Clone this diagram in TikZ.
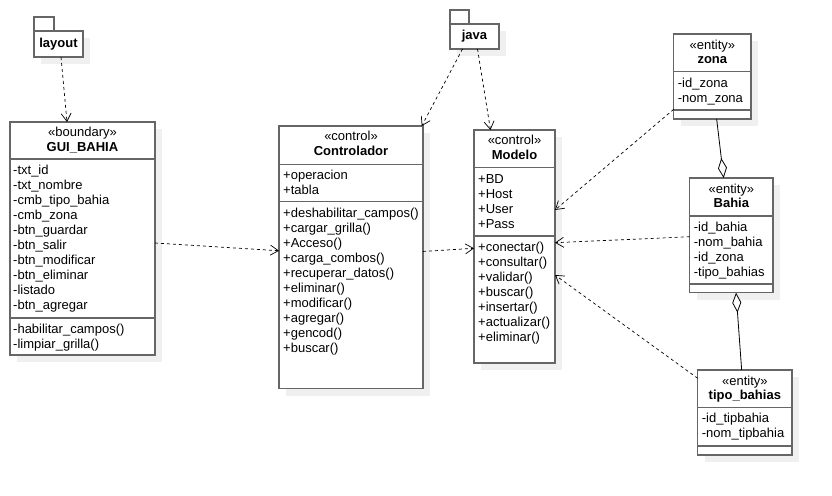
\documentclass[tikz,border=0pt]{standalone}
\usepackage{fontspec}
\setmainfont{Liberation Sans}
\usepackage{tikz}
\usetikzlibrary{arrows.meta}
\usetikzlibrary{calc}
\usetikzlibrary{shadows}
\usetikzlibrary{positioning}

\begin{document}
\begin{tikzpicture}[x=1pt,y=-1pt,
    cls/.style={draw=black!60, line width=1.3pt, fill=white, outer sep=0pt, anchor=north west,
        drop shadow={shadow xshift=7pt, shadow yshift=-7pt, fill=black!6, opacity=1, draw=none}},
    clsline/.style={draw=black!60, line width=1.3pt},
    stereo/.style={anchor=base, inner sep=0pt, font=\fontsize{13}{15}\selectfont},
    cname/.style={anchor=base, inner sep=0pt, font=\fontsize{13}{15}\selectfont\bfseries},
    member/.style={anchor=base west, inner sep=0pt, font=\fontsize{13}{15}\selectfont},
    pkg/.style={cls, anchor=center, font=\fontsize{13}{15}\selectfont\bfseries},
    dep/.style={black, line width=0.7pt, dash pattern=on 3pt off 3pt, -{Straight Barb[length=8pt,width=10pt]}},
    aggr/.style={black, line width=0.8pt}]
        \useasboundingbox (0,0) rectangle (832,495);

        % packages
        \node[pkg, minimum width=49pt, minimum height=26pt] (layout) at (58.5,44) {layout};
        \draw[clsline] (layout.north west) rectangle ([xshift=20pt,yshift=14pt]layout.north west);
        \node[pkg, minimum width=49pt, minimum height=25pt] (java) at (474.5,36.5) {java};
        \draw[clsline] (java.north west) rectangle ([xshift=19pt,yshift=14pt]java.north west);

        % boundary
        \node[cls, minimum width=145pt, minimum height=233pt] (gui) at (10,122) {};
        \node[stereo] (gui-s) at ([yshift=-14.5pt]gui.north) {«boundary»};
        \node[cname] (gui-n) at ([yshift=-29.5pt]gui.north) {GUI\_BAHIA};
        \draw[clsline] ([yshift=-37pt]gui.north west) -- ([yshift=-37pt]gui.north east);
        \draw[clsline] ([yshift=-196pt]gui.north west) -- ([yshift=-196pt]gui.north east);
        \foreach \t [count=\i] in {-txt\_id, -txt\_nombre, -cmb\_tipo\_bahia, -cmb\_zona, -btn\_guardar,
            -btn\_salir, -btn\_modificar, -btn\_eliminar, -listado, -btn\_agregar}
            \node[member] (gui-a\i) at ([xshift=3pt,yshift={-52.5pt-15pt*(\i-1)}]gui.north west) {\t};
        \foreach \t [count=\i] in {-habilitar\_campos(), -limpiar\_grilla()}
            \node[member] (gui-m\i) at ([xshift=3pt,yshift={-211pt-15pt*(\i-1)}]gui.north west) {\t};

        % controllers
        \node[cls, minimum width=144pt, minimum height=262.5pt] (ctrl) at (279,126) {};
        \node[stereo] (ctrl-s) at ([yshift=-14.5pt]ctrl.north) {«control»};
        \node[cname] (ctrl-n) at ([yshift=-29.5pt]ctrl.north) {Controlador};
        \draw[clsline] ([yshift=-38.5pt]ctrl.north west) -- ([yshift=-38.5pt]ctrl.north east);
        \draw[clsline] ([yshift=-75.5pt]ctrl.north west) -- ([yshift=-75.5pt]ctrl.north east);
        \foreach \t [count=\i] in {+operacion, +tabla}
            \node[member] (ctrl-a\i) at ([xshift=4pt,yshift={-53.5pt-15pt*(\i-1)}]ctrl.north west) {\t};
        \foreach \t [count=\i] in {+deshabilitar\_campos(), +cargar\_grilla(), +Acceso(), +carga\_combos(),
            +recuperar\_datos(), +eliminar(), +modificar(), +agregar(), +gencod(), +buscar()}
            \node[member] (ctrl-m\i) at ([xshift=4pt,yshift={-91.8pt-15pt*(\i-1)}]ctrl.north west) {\t};

        \node[cls, minimum width=81pt, minimum height=233pt] (modelo) at (474,130) {};
        \node[stereo] (modelo-s) at ([yshift=-14.5pt]modelo.north) {«control»};
        \node[cname] (modelo-n) at ([yshift=-29.5pt]modelo.north) {Modelo};
        \draw[clsline] ([yshift=-37.7pt]modelo.north west) -- ([yshift=-37.7pt]modelo.north east);
        \draw[clsline] ([yshift=-106pt]modelo.north west) -- ([yshift=-106pt]modelo.north east);
        \foreach \t [count=\i] in {+BD, +Host, +User, +Pass}
            \node[member] (modelo-a\i) at ([xshift=4pt,yshift={-53.5pt-15pt*(\i-1)}]modelo.north west) {\t};
        \foreach \t [count=\i] in {+conectar(), +consultar(), +validar(), +buscar(), +insertar(),
            +actualizar(), +eliminar()}
            \node[member] (modelo-m\i) at ([xshift=4pt,yshift={-121.8pt-15pt*(\i-1)}]modelo.north west) {\t};

        % entities
        \node[cls, minimum width=77.3pt, minimum height=85pt] (zona) at (673.7,34) {};
        \node[stereo] (zona-s) at ([yshift=-15pt]zona.north) {«entity»};
        \node[cname] (zona-n) at ([yshift=-29.5pt]zona.north) {zona};
        \draw[clsline] ([yshift=-37.7pt]zona.north west) -- ([yshift=-37.7pt]zona.north east);
        \draw[clsline] ([yshift=-76pt]zona.north west) -- ([yshift=-76pt]zona.north east);
        \foreach \t [count=\i] in {-id\_zona, -nom\_zona}
            \node[member] (zona-a\i) at ([xshift=4pt,yshift={-53.2pt-15pt*(\i-1)}]zona.north west) {\t};

        \node[cls, minimum width=83.3pt, minimum height=114.7pt] (bahia) at (689.7,178) {};
        \node[stereo] (bahia-s) at ([yshift=-15pt]bahia.north) {«entity»};
        \node[cname] (bahia-n) at ([yshift=-29.5pt]bahia.north) {Bahia};
        \draw[clsline] ([yshift=-38pt]bahia.north west) -- ([yshift=-38pt]bahia.north east);
        \draw[clsline] ([yshift=-106pt]bahia.north west) -- ([yshift=-106pt]bahia.north east);
        \foreach \t [count=\i] in {-id\_bahia, -nom\_bahia, -id\_zona, -tipo\_bahias}
            \node[member] (bahia-a\i) at ([xshift=4pt,yshift={-53.2pt-15pt*(\i-1)}]bahia.north west) {\t};

        \node[cls, minimum width=94.3pt, minimum height=85pt] (tipo) at (697.7,370) {};
        \node[stereo] (tipo-s) at ([yshift=-15pt]tipo.north) {«entity»};
        \node[cname] (tipo-n) at ([yshift=-29.5pt]tipo.north) {tipo\_bahias};
        \draw[clsline] ([yshift=-37.7pt]tipo.north west) -- ([yshift=-37.7pt]tipo.north east);
        \draw[clsline] ([yshift=-76pt]tipo.north west) -- ([yshift=-76pt]tipo.north east);
        \foreach \t [count=\i] in {-id\_tipbahia, -nom\_tipbahia}
            \node[member] (tipo-a\i) at ([xshift=4pt,yshift={-52.8pt-15pt*(\i-1)}]tipo.north west) {\t};

        % dependencies
        \path[dep] ([xshift=2.5pt]layout.south) edge ([xshift=-15.5pt]gui.north);
        \path[dep] ([yshift=-4.5pt]gui.east) edge ([yshift=6.5pt]ctrl.west);
        \path[dep] ([xshift=-12pt]java.south) edge ([xshift=-1.3pt]ctrl.north east);
        \path[dep] ([xshift=3pt]java.south) edge ([xshift=-24pt]modelo.north);
        \path[dep] ([yshift=5.8pt]ctrl.east) edge ([yshift=-1.8pt]modelo.east -| modelo.west);
        \path[dep] ([yshift=-32.8pt]zona.west) edge ([yshift=36.5pt]modelo.east);
        \path[dep] ([yshift=-1.4pt]bahia.west) edge ([yshift=3.8pt]modelo.east);
        \path[dep] ([yshift=34.2pt]tipo.west) edge ([yshift=-28.5pt]modelo.east);

        % aggregations
        \draw[aggr, -{Diamond[open, fill=white, length=20pt, width=9pt]}] ([xshift=4.3pt]zona.south) -- ([xshift=-7.7pt]bahia.north);
        \draw[aggr, {Diamond[open, fill=white, length=20pt, width=9pt]}-] ([xshift=4.7pt]bahia.south) -- ([xshift=-3.2pt]tipo.north);
    \end{tikzpicture}
\end{document}
